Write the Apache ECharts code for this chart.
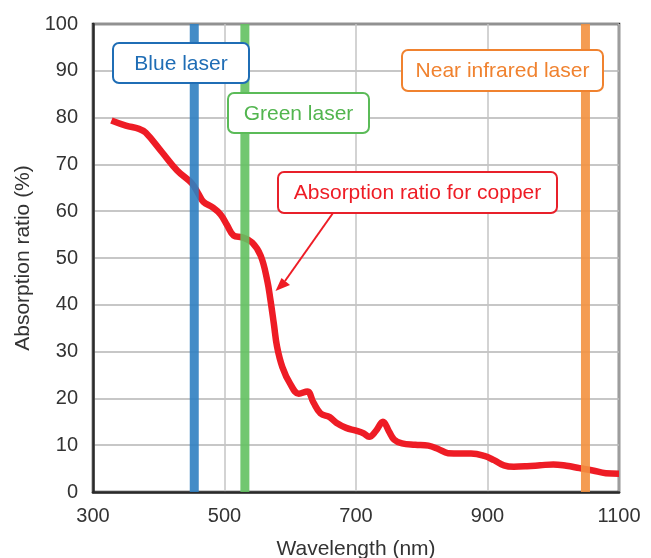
<!DOCTYPE html>
<html>
<head>
<meta charset="utf-8">
<script src="https://cdn.jsdelivr.net/npm/echarts@6/dist/echarts.min.js"></script>
<style>
html,body{margin:0;padding:0;background:#fff;}
#c{width:651px;height:558px;}
</style>
</head>
<body>
<div id="c"></div>
<script>
// Absorption ratio of copper (wavelength nm, %)
var wavelengths = [328,350,370,380,405,428,450,460,468,482,494,504,514,527,542,555,565,570,575,580,588,600,613,626,635,646,660,670,685,700,712,720,730,741,750,758,770,790,810,825,840,860,875,895,910,925,940,960,980,1000,1020,1040,1060,1080,1100];
var absorption  = [79.4,78.3,77.6,76.8,72.6,68.7,66.0,63.8,62.0,60.8,59.3,57.0,54.8,54.4,53.3,50.5,45.2,40.9,36.0,31.0,26.7,23.1,21.0,21.5,19.2,16.8,16.0,14.8,13.7,13.1,12.5,11.8,13.0,15.0,13.0,11.2,10.4,10.1,9.9,9.2,8.3,8.2,8.2,7.7,6.8,5.7,5.4,5.5,5.7,5.9,5.6,5.1,4.6,4.0,3.9];
var laserNames = ['Blue laser','Green laser','Near infrared laser'];
var laserWavelengths = [454,531,1049];
var xTicks = [300,500,700,900,1100];
var yTicks = [0,10,20,30,40,50,60,70,80,90,100];

var FONT = 'Liberation Sans';
var laserColors = ['#2f7fc1','#63c160','#f39140'];
var textColors = ['#1f6db5','#52b54f','#f0822f'];

var curve = wavelengths.map(function(w,i){return [w, absorption[i]];});
var series = [{
  type:'line', data:curve, smooth:0.4, symbol:'none', z:2,
  lineStyle:{color:'#ee1c25', width:6.5}
}];
laserWavelengths.forEach(function(w,i){
  series.push({
    type:'line', name:laserNames[i], data:[[w,yTicks[0]],[w,yTicks[yTicks.length-1]]],
    symbol:'none', z:3, silent:true,
    lineStyle:{color:laserColors[i], width:9, opacity:0.9, cap:'butt'}
  });
});

function box(x,y,w,h,color,tcolor,txt){
  return {type:'group', z:100, children:[
    {type:'rect', z:100, shape:{x:x,y:y,width:w,height:h,r:6}, style:{fill:'#fff',stroke:color,lineWidth:2}},
    {type:'text', z:101, x:x+w/2, y:y+h/2+1, style:{text:txt, fill:tcolor, font:'21px "'+FONT+'"', textAlign:'center', textVerticalAlign:'middle'}}
  ]};
}

var chart = echarts.init(document.getElementById('c'));
chart.setOption({
  animation:false,
  backgroundColor:'#fff',
  grid:{left:93, right:32, top:24, bottom:66, containLabel:false, outerBoundsMode:'none', show:true, borderColor:'#2a2a2a', borderWidth:2.5, backgroundColor:'transparent'},
  xAxis:{
    type:'value', min:xTicks[0], max:xTicks[xTicks.length-1], interval:200,
    name:'Wavelength (nm)', nameLocation:'middle', nameGap:47,
    nameTextStyle:{fontFamily:FONT, fontSize:21, color:'#333', verticalAlign:'top'},
    axisLine:{show:true, lineStyle:{color:'#2a2a2a', width:2.5}},
    axisTick:{show:false},
    axisLabel:{fontFamily:FONT, fontSize:20, color:'#333', margin:14, formatter:function(v){return String(v);}},
    splitLine:{show:true, lineStyle:{color:'#c4c4c4', width:1.5}}
  },
  yAxis:{
    type:'value', min:yTicks[0], max:yTicks[yTicks.length-1], interval:10,
    name:'Absorption ratio (%)', nameLocation:'middle', nameGap:58,
    nameTextStyle:{fontFamily:FONT, fontSize:21, color:'#333'},
    axisLine:{show:true, lineStyle:{color:'#2a2a2a', width:2.5}},
    axisTick:{show:false},
    axisLabel:{fontFamily:FONT, fontSize:20, color:'#333', margin:15},
    splitLine:{show:true, lineStyle:{color:'#b4b4b4', width:1.5}}
  },
  series:series,
  graphic:[
    box(113,43,136,40,'#1f6db5',textColors[0],laserNames[0]),
    box(228,93,141,40,'#5bbb58',textColors[1],laserNames[1]),
    box(402,50,201,41,'#f0822f',textColors[2],laserNames[2]),
    box(278,172,279,41,'#e8202a','#ee1c25','Absorption ratio for copper'),
    {type:'line', z:100, shape:{x1:333,y1:213,x2:285,y2:281}, style:{stroke:'#ee1c25', lineWidth:2}},
    {type:'polygon', z:100, shape:{points:[[275.5,291],[290,285],[281.5,278]]}, style:{fill:'#ee1c25'}}
  ]
});
</script>
</body>
</html>
